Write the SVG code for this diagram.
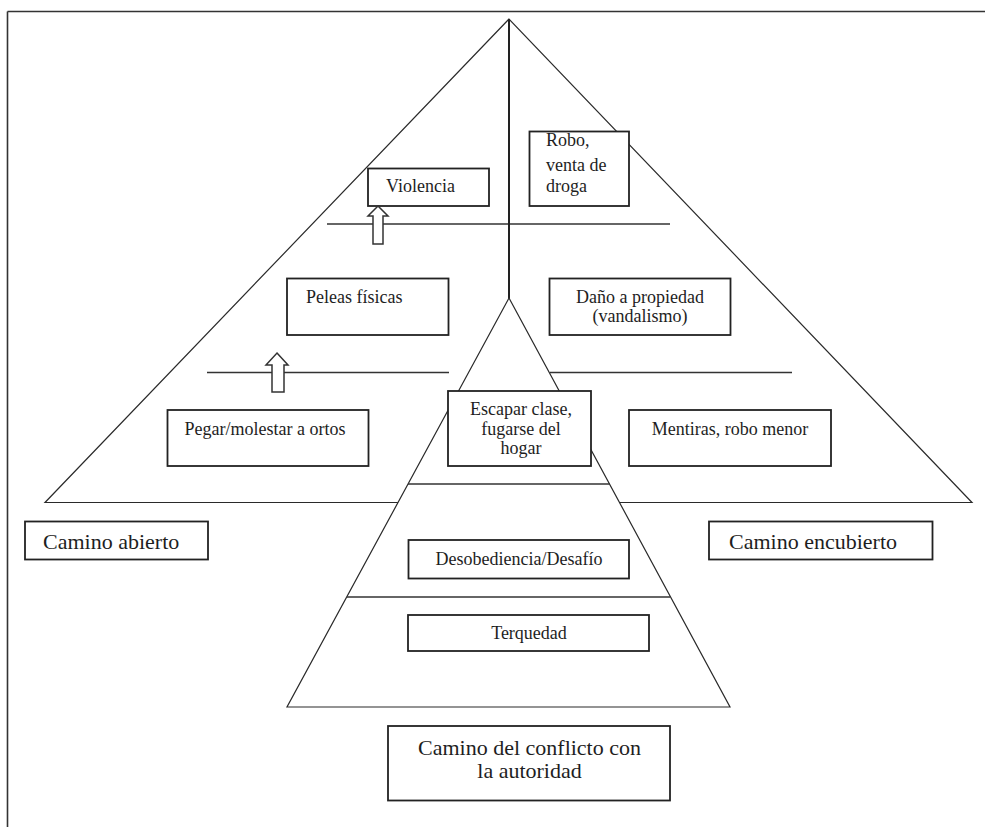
<svg xmlns="http://www.w3.org/2000/svg" width="985" height="827" viewBox="0 0 985 827">
<style>
.tri{fill:#fff;stroke:#2a2a2a;stroke-width:1.2}
.ln{stroke:#333;stroke-width:1.6;fill:none}
.box{fill:#fff;stroke:#222;stroke-width:1.8}
.arr{fill:#fff;stroke:#333;stroke-width:1.5;stroke-linejoin:miter}
text{font-family:"Liberation Serif","Times New Roman",serif;font-size:18px;fill:#1e1e1e}
.big{font-size:22px}
.c{text-anchor:middle}
</style>
<rect x="0" y="0" width="985" height="827" fill="#fff"/>
<g id="frame">
<line class="ln" x1="7.5" y1="11.5" x2="985" y2="11.5"/>
<line class="ln" x1="7.5" y1="11.5" x2="7.5" y2="827"/>
</g>
<g id="pyramid-outer">
<polygon class="tri" points="509,19 45,502.5 972,502.5"/>
</g>
<g id="connectors">
<line class="ln" x1="327" y1="224" x2="670" y2="224"/>
<line class="ln" x1="207" y1="372.5" x2="449" y2="372.5"/>
<line class="ln" x1="550" y1="372.5" x2="792" y2="372.5"/>
<line x1="509" y1="19" x2="509" y2="299" stroke="#222" stroke-width="2"/>
</g>
<g id="pyramid-inner">
<polygon class="tri" points="509,298 287,707 730,707"/>
<line class="ln" x1="408" y1="484" x2="610" y2="484"/>
<line class="ln" x1="347" y1="597" x2="670" y2="597"/>
</g>
<g id="violencia">
<rect class="box" x="368" y="168.5" width="121" height="37.5"/>
<text x="386" y="191.5">Violencia</text>
</g>
<g id="robo">
<rect class="box" x="529.5" y="131.5" width="99.5" height="74.5"/>
<text x="546" y="146">Robo,</text>
<text x="546" y="171">venta de</text>
<text x="546" y="192">droga</text>
</g>
<g id="peleas">
<rect class="box" x="287" y="278.5" width="161.5" height="56.5"/>
<text x="306" y="303">Peleas físicas</text>
</g>
<g id="dano">
<rect class="box" x="549.5" y="278.5" width="181" height="56.5"/>
<text class="c" x="640" y="303">Daño a propiedad</text>
<text class="c" x="640" y="322">(vandalismo)</text>
</g>
<g id="pegar">
<rect class="box" x="167.5" y="410" width="201" height="56"/>
<text class="c" x="265" y="435">Pegar/molestar a ortos</text>
</g>
<g id="escapar">
<rect class="box" x="448" y="391" width="143" height="75"/>
<text class="c" x="521" y="415">Escapar clase,</text>
<text class="c" x="521" y="434.5">fugarse del</text>
<text class="c" x="521" y="454">hogar</text>
</g>
<g id="mentiras">
<rect class="box" x="629" y="410" width="202" height="56"/>
<text class="c" x="730" y="435">Mentiras,  robo menor</text>
</g>
<g id="abierto">
<rect class="box" x="25" y="521.5" width="183" height="38"/>
<text class="big" x="43" y="548.5">Camino abierto</text>
</g>
<g id="encubierto">
<rect class="box" x="709" y="521.5" width="223.5" height="38"/>
<text class="big" x="729" y="548.5">Camino encubierto</text>
</g>
<g id="desobediencia">
<rect class="box" x="408.5" y="540" width="220.5" height="38.5"/>
<text class="c" x="519" y="565">Desobediencia/Desafío</text>
</g>
<g id="terquedad">
<rect class="box" x="408" y="615" width="241" height="36"/>
<text class="c" x="529" y="638.5">Terquedad</text>
</g>
<g id="conflicto">
<rect class="box" x="388" y="726" width="282" height="74.5"/>
<text class="big c" x="529.5" y="755">Camino del conflicto con</text>
<text class="big c" x="529.5" y="778">la autoridad</text>
</g>
<g id="arrows">
<polygon class="arr" points="378,206 388,216 383,216 383,244 373,244 373,216 368,216"/>
<polygon class="arr" points="277,353 288,365 284,365 284,392 272,392 272,365 266,365"/>
</g>
</svg>
